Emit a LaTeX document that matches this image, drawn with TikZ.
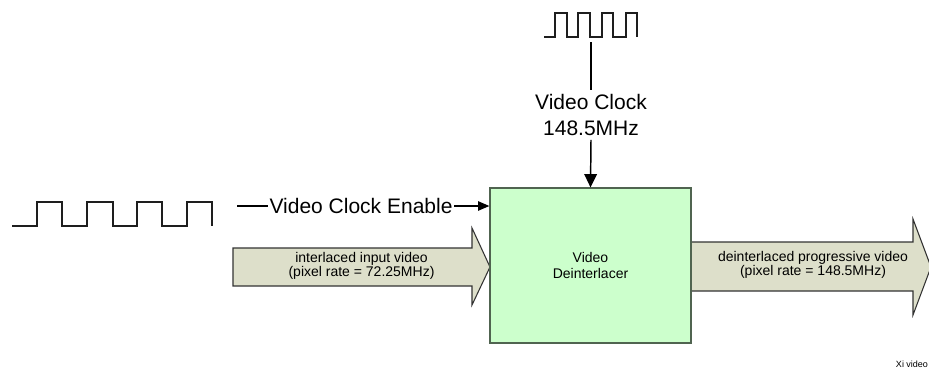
\documentclass[tikz,border=0pt]{standalone}
\usepackage{fontspec}
\setmainfont{Liberation Sans}
\usetikzlibrary{arrows.meta}
\definecolor{arrowfill}{RGB}{221,223,202}
\definecolor{boxfill}{RGB}{204,255,204}
\definecolor{boxline}{RGB}{80,100,80}
\definecolor{waveline}{RGB}{30,30,30}
\tikzset{
  wave/.style={draw=waveline, line width=1.1pt},
  conn/.style={draw=black, line width=1.1pt},
  bigtip/.style={-{Triangle[length=10pt,width=9.5pt]}},
  smalltip/.style={-{Triangle[length=8.5pt,width=7pt]}},
  fatarrow/.style={draw=black!80, line width=0.8pt, fill=arrowfill},
  biglabel/.style={font=\fontsize{15.75pt}{19.5pt}\selectfont, align=center},
  smalllabel/.style={font=\fontsize{10.5pt}{11pt}\selectfont, align=center, inner sep=0pt},
}
\begin{document}
\begin{tikzpicture}[x=0.75pt,y=-0.75pt]
\useasboundingbox (0,0) rectangle (929,368);
% fat arrows
\draw[fatarrow] (233,248) -- (472,248) -- (472,228) -- (490,267) -- (472,305) -- (472,286) -- (233,286) -- cycle;
\node[smalllabel] (intext) at (361.5,266) {interlaced input video\\(pixel rate = 72.25MHz)};
\draw[fatarrow] (691,242) -- (913,242) -- (913,219) -- (931,267) -- (913,315) -- (913,291) -- (691,291) -- cycle;
\node[smalllabel] (outtext) at (813,265) {deinterlaced progressive video\\(pixel rate = 148.5MHz)};
% box
\node[draw=boxline, line width=0.9pt, fill=boxfill, minimum width=150.75pt, minimum height=116.25pt,
      font=\fontsize{10.5pt}{12.5pt}\selectfont, align=center] (box) at (590.5,265.5) {Video\\Deinterlacer};
% top waveform
\draw[wave] (544,37) -- (555,37) -- (555,13) -- (567,13) -- (567,37) -- (578,37) -- (578,13) -- (590,13) -- (590,37)
  -- (602,37) -- (602,13) -- (613,13) -- (613,37) -- (626,37) -- (626,13) -- (637,13) -- (637,37);
\coordinate (clkstart) at (591,42);
\node[biglabel, inner sep=3pt] (clk) at (591,115) {Video Clock\\148.5MHz};
\draw[conn] (clkstart) -- (clk.north);
\draw[conn, bigtip] (clk.south) -- (box.north);
% left waveform
\draw[wave] (12,226) -- (37,226) -- (37,202) -- (62,202) -- (62,226) -- (87,226) -- (87,202) -- (113,202) -- (113,226)
  -- (137,226) -- (137,202) -- (162,202) -- (162,226) -- (187,226) -- (187,202) -- (212,202) -- (212,226);
\coordinate (enstart) at (237,206);
\node[biglabel, inner xsep=1pt, inner ysep=2pt, anchor=west] (en) at (268,206) {Video Clock Enable};
\draw[conn] (enstart) -- (en.west);
\draw[conn, smalltip] (en.east) -- (en.east -| box.west);
% footer
\node[font=\fontsize{6.75pt}{8pt}\selectfont, inner sep=0pt] (xi) at (912,364) {Xi video};
\end{tikzpicture}
\end{document}
